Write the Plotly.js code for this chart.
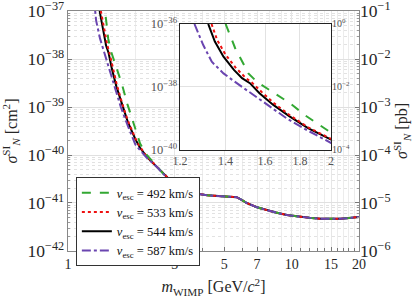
<!DOCTYPE html>
<html>
<head>
<meta charset="utf-8">
<script src="https://cdn.plot.ly/plotly-3.0.1.min.js"></script>
<style>html,body{margin:0;padding:0;background:#fff;}#chart{width:415px;height:303px;}</style>
</head>
<body>
<div id="chart"></div>
<script>
// WIMP mass [GeV/c^2] and log10 of cross-section [cm^2]
const massBlack  = [1.32, 1.35, 1.39, 1.44, 1.48, 1.52, 1.57, 1.645, 1.74, 1.85, 2.0, 2.1, 2.25];
const logSigBlack = [-36.0, -36.56, -37.04, -37.46, -37.72, -37.88, -38.2, -38.57, -38.94, -39.31, -39.67, -39.85, -40.04];

const massRed  = [1.335, 1.36, 1.40, 1.45, 1.50, 1.53, 1.58, 1.65, 1.74, 1.85, 2.0, 2.1, 2.25];
const logSigRed = [-36.0, -36.5, -36.98, -37.4, -37.72, -37.86, -38.15, -38.52, -38.9, -39.28, -39.65, -39.83, -40.03];

const massGreen  = [1.40, 1.446, 1.495, 1.512, 1.557, 1.609, 1.666, 1.741, 1.843, 2.0, 2.1, 2.25];
const logSigGreen = [-36.0, -36.77, -37.36, -37.57, -37.84, -38.04, -38.25, -38.52, -38.94, -39.45, -39.76, -40.0];

const massPurple  = [1.26, 1.298, 1.336, 1.39, 1.454, 1.538, 1.627, 1.722, 1.843, 2.0, 2.1, 2.25];
const logSigPurple = [-36.0, -36.67, -37.2, -37.57, -37.88, -38.25, -38.62, -39.0, -39.37, -39.78, -39.9, -40.06];

// shared high-mass part (all four curves coincide)
const massTail   = [2.5, 2.75, 3.0, 3.2, 3.5, 3.8, 4.2, 4.6, 5.0, 5.4, 5.68, 6.0, 6.3, 7.0, 7.7, 8.5, 9.5, 10.5, 12, 13.5, 15, 16.5, 18, 20];
const logSigTail = [-40.25, -40.46, -40.62, -40.71, -40.77, -40.81, -40.84, -40.855, -40.865, -40.87, -40.88, -40.94, -41.0, -41.09, -41.15, -41.2, -41.25, -41.28, -41.31, -41.33, -41.335, -41.33, -41.315, -41.29];

const seriesNames = ['492', '533', '544', '587'];
const xTickVals = [1, 3, 5, 7, 10, 15, 20];
const xMinorVals = [2, 4, 6, 8, 9, 11, 12, 13, 14, 16, 17, 18, 19];
const insetXTicks = [1.2, 1.4, 1.6, 1.8, 2];
const insetXText = ['1.2', '1.4', '1.6', '1.8', '2'];
const insetRightVals = [1e-4, 1e-2, 1];
const insetRightText = ['10<sup>\u22124</sup>', '10<sup>\u22122</sup>', '10<sup>0</sup>'];
const CM2_PER_PB = 1e-36;

const FONT = 'Liberation Serif, DejaVu Serif, serif';

function full(m, l) {
  return { x: m.concat(massTail), y: l.concat(logSigTail).map(v => Math.pow(10, v)) };
}

const defs = [
  { m: massBlack,  l: logSigBlack,  name: seriesNames[2], color: '#000000', dash: 'solid',   rank: 3 },
  { m: massRed,    l: logSigRed,    name: seriesNames[1], color: '#ee1111', dash: 'dot',     rank: 2 },
  { m: massGreen,  l: logSigGreen,  name: seriesNames[0], color: '#33a833', dash: 'dash',    rank: 1 },
  { m: massPurple, l: logSigPurple, name: seriesNames[3], color: '#6a45b0', dash: 'dashdot', rank: 4 }
];

const traces = [];
defs.forEach(d => {
  const c = full(d.m, d.l);
  traces.push({
    x: c.x, y: c.y, xaxis: 'x', yaxis: 'y', mode: 'lines',
    line: { color: d.color, dash: d.dash, width: 2 },
    name: '<i>v</i><sub>esc</sub> = ' + d.name + ' km/s',
    legendrank: d.rank, hoverinfo: 'skip'
  });
});
defs.forEach(d => {
  const c = full(d.m, d.l);
  traces.push({
    x: c.x, y: c.y, xaxis: 'x2', yaxis: 'y2', mode: 'lines',
    line: { color: d.color, dash: d.dash, width: 2 },
    showlegend: false, hoverinfo: 'skip'
  });
});
// the same black curve expressed in pb, invisible, so the right-hand pb axes are drawn
const pbRef = full(massBlack, logSigBlack);
traces.push({ x: pbRef.x, y: pbRef.y.map(v => v / CM2_PER_PB), xaxis: 'x', yaxis: 'y3', mode: 'lines',
  line: { width: 0, color: 'rgba(0,0,0,0)' }, opacity: 0, showlegend: false, hoverinfo: 'skip' });
traces.push({ x: pbRef.x, y: pbRef.y.map(v => v / CM2_PER_PB), xaxis: 'x2', yaxis: 'y4', mode: 'lines',
  line: { width: 0, color: 'rgba(0,0,0,0)' }, opacity: 0, showlegend: false, hoverinfo: 'skip' });

const layout = {
  width: 415, height: 303,
  margin: { l: 68, r: 56, t: 11, b: 52 },
  paper_bgcolor: '#ffffff', plot_bgcolor: '#ffffff',
  font: { family: FONT, color: '#262626', size: 14 },
  showlegend: true,
  legend: {
    x: 0.027, y: 0.308, xanchor: 'left', yanchor: 'top',
    bgcolor: '#ffffff', bordercolor: '#333333', borderwidth: 1,
    font: { family: FONT, size: 12.5, color: '#111' },
    tracegroupgap: 0, itemwidth: 30
  },
  xaxis: {
    type: 'log', range: [0, Math.log10(20)], domain: [0, 1], anchor: 'y',
    tickvals: xTickVals, ticktext: xTickVals.map(String), ticklabeloverflow: 'allow',
    ticks: 'inside', ticklen: 4, tickcolor: '#777',
    showline: true, linecolor: '#888', mirror: true, linewidth: 1,
    showgrid: true, gridcolor: '#e6e6e6',
    minor: { tickvals: xMinorVals, ticks: 'inside', ticklen: 3, tickcolor: '#777', showgrid: true, gridcolor: '#ececec' },
    tickfont: { size: 14 },
    title: { text: '<i>m</i><sub>WIMP</sub> [GeV/<i>c</i><sup>2</sup>]', font: { size: 16 }, standoff: 10 },
    zeroline: false
  },
  yaxis: {
    type: 'log', range: [-42.0005, -36.9995], anchor: 'x',
    dtick: 1, exponentformat: 'power', ticklabeloverflow: 'allow',
    ticks: 'inside', ticklen: 4, tickcolor: '#777',
    showline: true, linecolor: '#888', mirror: true, linewidth: 1,
    showgrid: true, gridcolor: '#e0e0e0',
    minor: { ticks: 'inside', ticklen: 2, tickcolor: '#999', showgrid: true, griddash: 'dot', gridcolor: '#e2e2e2' },
    tickfont: { size: 14 },
    title: { text: '<i>σ</i><sup>SI</sup><sub><i>N</i></sub> [cm<sup>2</sup>]', font: { size: 16 }, standoff: 6 }
  },
  yaxis3: {
    type: 'log', range: [-6.0005, -0.9995], overlaying: 'y', side: 'right', anchor: 'x',
    dtick: 1, exponentformat: 'power', ticklabeloverflow: 'allow',
    ticks: 'inside', ticklen: 4, tickcolor: '#777',
    showgrid: false, showline: false,
    minor: { ticks: 'inside', ticklen: 2, tickcolor: '#999' },
    tickfont: { size: 14 },
    title: { text: '<i>σ</i><sup>SI</sup><sub><i>N</i></sub> [pb]', font: { size: 16 }, standoff: 4 }
  },
  xaxis2: {
    type: 'log', range: [Math.log10(1.2), Math.log10(2)], domain: [0.385, 0.904], anchor: 'y2',
    tickvals: insetXTicks, ticktext: insetXText, ticklabeloverflow: 'allow',
    ticks: '', showline: true, linecolor: '#222', mirror: true, linewidth: 1,
    showgrid: true, gridcolor: '#e2e2e2',
    tickfont: { size: 12, color: '#555' }, zeroline: false
  },
  yaxis2: {
    type: 'log', range: [-40.0005, -35.9995], domain: [0.421, 0.946], anchor: 'x2',
    dtick: 2, exponentformat: 'power', ticklabeloverflow: 'allow',
    ticks: '', showline: true, linecolor: '#222', mirror: true, linewidth: 1,
    showgrid: true, gridcolor: '#e2e2e2',
    tickfont: { size: 10, color: '#555' }
  },
  yaxis4: {
    type: 'log', range: [-4.0005, 0.0005], overlaying: 'y2', side: 'right', anchor: 'x2',
    tickvals: insetRightVals, ticktext: insetRightText, ticklabeloverflow: 'allow',
    ticks: '', showgrid: false, showline: false,
    tickfont: { size: 10, color: '#555' }
  }
};

Plotly.newPlot('chart', traces, layout, { staticPlot: true, displayModeBar: false });
</script>
</body>
</html>
